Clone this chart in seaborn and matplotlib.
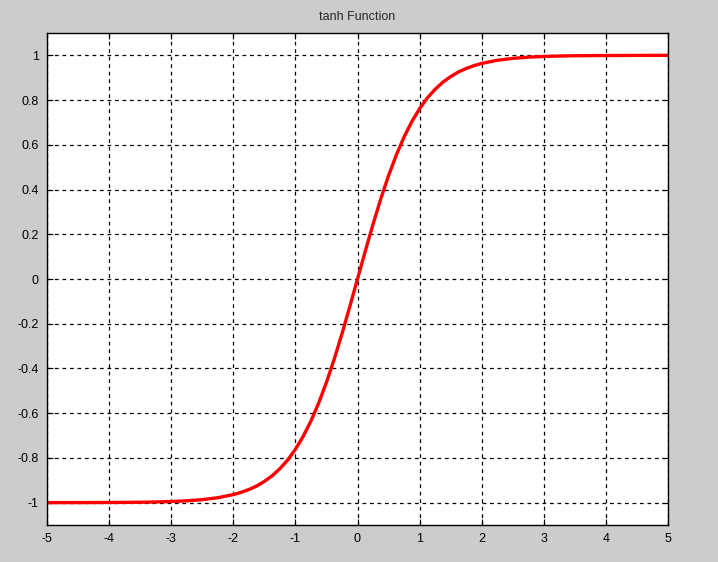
import numpy as np
import pandas as pd
import seaborn as sns
import matplotlib.pyplot as plt

# values
x_vals = [-5, -4.75, -4.5, -4.25, -4, -3.75, -3.5, -3.25, -3, -2.75, -2.5, -2.25,
          -2, -1.875, -1.75, -1.625, -1.5, -1.375, -1.25, -1.125, -1, -0.875,
          -0.75, -0.625, -0.5, -0.375, -0.25, -0.125, 0,
          0.125, 0.25, 0.375, 0.5, 0.625, 0.75, 0.875, 1, 1.125, 1.25, 1.375,
          1.5, 1.625, 1.75, 1.875, 2, 2.25, 2.5, 2.75,
          3, 3.25, 3.5, 3.75, 4, 4.25, 4.5, 4.75, 5]
y_vals = [-1.0, -0.9999, -0.9998, -0.9996, -0.9993, -0.9989, -0.9982, -0.997, -0.9951,
          -0.9919, -0.9866, -0.978,
          -0.964, -0.9541, -0.9414, -0.9257, -0.9051, -0.8802, -0.8483, -0.8096,
          -0.7616, -0.7039, -0.6351, -0.5546, -0.4621, -0.3584, -0.2449, -0.1244, 0.0,
          0.1244, 0.2449, 0.3584, 0.4621, 0.5546, 0.6351, 0.7039, 0.7616, 0.8096,
          0.8483, 0.8802, 0.9051, 0.9257, 0.9414, 0.9541, 0.964, 0.978,
          0.9866, 0.9919, 0.9951, 0.997, 0.9982, 0.9989, 0.9993, 0.9996, 0.9998,
          0.9999, 1.0]
x_ticks = [-5, -4, -3, -2, -1, 0, 1, 2, 3, 4, 5]
y_ticks = [-1, -0.8, -0.6, -0.4, -0.2, 0, 0.2, 0.4, 0.6, 0.8, 1]
y_labels = ["-1", "-0.8", "-0.6", "-0.4", "-0.2", "0", "0.2", "0.4", "0.6", "0.8", "1"]

df = pd.DataFrame({"x": x_vals, "y": y_vals})

sns.set_style("white")
plt.rcParams["font.family"] = ["Liberation Sans", "DejaVu Sans"]

fig = plt.figure(figsize=(7.18, 5.62), dpi=100, facecolor="#cccccc")
ax = fig.add_axes([47 / 718, 37 / 562, 621 / 718, 492 / 562])
ax.set_facecolor("white")

sns.lineplot(data=df, x="x", y="y", color="red", linewidth=2.4, ax=ax)

ax.set_xlim(-5, 5)
ax.set_ylim(-1.1, 1.1)
ax.set_xticks(x_ticks)
ax.set_xticklabels([str(t) for t in x_ticks])
ax.set_yticks(y_ticks)
ax.set_yticklabels(y_labels)
ax.grid(True, color="black", linestyle=(0, (3, 3)), linewidth=0.9)
ax.set_axisbelow(True)
ax.tick_params(direction="in", length=4, width=0.8, labelsize=9, pad=6,
               top=True, right=True, bottom=True, left=True, colors="black")
for s in ax.spines.values():
    s.set_color("black")
    s.set_linewidth(1.0)
ax.set_xlabel("")
ax.set_ylabel("")
ax.set_title("tanh Function", fontsize=9, pad=9)

fig.savefig("out.png", dpi=100, facecolor=fig.get_facecolor())
